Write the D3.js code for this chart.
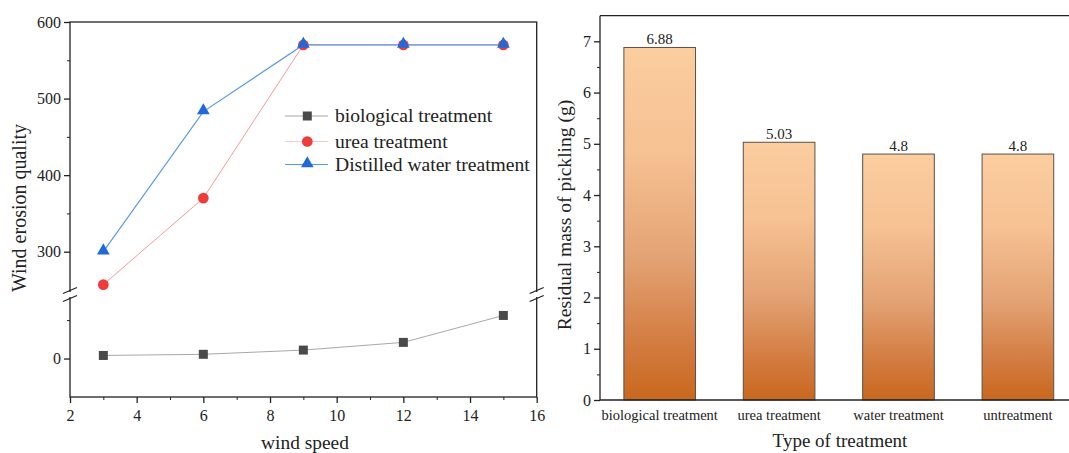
<!DOCTYPE html>
<html><head><meta charset="utf-8">
<script src="https://cdn.jsdelivr.net/npm/d3@7"></script>
<style>
html,body{margin:0;padding:0;background:#fff;}
svg, svg text{font-family:"Liberation Serif","Times New Roman",serif !important;}
</style></head>
<body><svg id="c" width="1069" height="453"></svg>
<script>
// ---------- data ----------
const windSpeed = [3, 6, 9, 12, 15];
const biological = [4, 5.5, 11, 21, 56];
const urea = [257, 370, 570, 570, 570];
const distilled = [300, 483, 570, 570, 570];
const seriesNames = ["biological treatment", "urea treatment", "Distilled water treatment"];
const xTicks = [2, 4, 6, 8, 10, 12, 14, 16];
const yUpperTicks = [300, 400, 500, 600];
const yLowerTicks = [0];

const treatments = ["biological treatment", "urea treatment", "water treatment", "untreatment"];
const residual = [6.88, 5.03, 4.8, 4.8];
const residualLabels = ["6.88", "5.03", "4.8", "4.8"];
const barTicks = [0, 1, 2, 3, 4, 5, 6, 7];

const svg = d3.select("#c");

// ---------- left chart ----------
const L = {left: 70, right: 536.7, top: 22, bottom: 397};
const x = d3.scaleLinear().domain([2, 16]).range([L.left, L.right]);
const yUp = d3.scaleLinear().domain([250, 600]).range([290, L.top]);
const yLo = d3.scaleLinear().domain([-50, 80]).range([L.bottom, 297]);
const yv = v => v >= 200 ? yUp(v) : yLo(v);

const g = svg.append("g");
g.append("rect").attr("x", L.left).attr("y", L.top).attr("width", L.right - L.left).attr("height", L.bottom - L.top)
  .attr("fill", "none").attr("stroke", "#222").attr("stroke-width", 1.3);
[L.left, L.right].forEach(ax => {
  g.append("rect").attr("x", ax - 3).attr("y", 292).attr("width", 6).attr("height", 5).attr("fill", "#fff");
  [290.5, 298.5].forEach(by => g.append("line").attr("x1", ax - 7).attr("x2", ax + 7)
    .attr("y1", by + 3).attr("y2", by - 3).attr("stroke", "#222").attr("stroke-width", 1.3));
});
const xAx = d3.axisBottom(x).tickValues(xTicks).tickSize(6).tickSizeOuter(0).tickFormat(d3.format("d"));
const xg = g.append("g").attr("transform", `translate(0,${L.bottom})`).call(xAx);
xg.select(".domain").remove();
xg.selectAll("text").attr("font-size", 16).attr("fill", "#222").attr("dy", "0.95em");
xg.selectAll("line").attr("stroke", "#222").attr("stroke-width", 1.3);
const xMinor = d3.axisBottom(x).tickValues(d3.range(3, 16, 2)).tickSize(3).tickFormat("");
const xmg = g.append("g").attr("transform", `translate(0,${L.bottom})`).call(xMinor);
xmg.select(".domain").remove(); xmg.selectAll("line").attr("stroke", "#222");
function yAxis(scale, major, minor) {
  const a = g.append("g").attr("transform", `translate(${L.left},0)`)
    .call(d3.axisLeft(scale).tickValues(major).tickSize(6).tickFormat(d3.format("d")));
  a.select(".domain").remove();
  a.selectAll("text").attr("font-size", 16).attr("fill", "#222").attr("x", -9);
  a.selectAll("line").attr("stroke", "#222").attr("stroke-width", 1.3);
  const m = g.append("g").attr("transform", `translate(${L.left},0)`)
    .call(d3.axisLeft(scale).tickValues(minor).tickSize(3).tickFormat(""));
  m.select(".domain").remove(); m.selectAll("line").attr("stroke", "#222");
}
yAxis(yUp, yUpperTicks, [350, 450, 550]);
yAxis(yLo, yLowerTicks, [50]);

const line = d3.line().x((d, i) => x(windSpeed[i])).y(d => yv(d));
g.append("path").datum(biological).attr("d", line).attr("fill", "none").attr("stroke", "#a8a8a8").attr("stroke-width", 1);
g.append("path").datum(urea).attr("d", line).attr("fill", "none").attr("stroke", "#f59a9a").attr("stroke-width", 1);
g.append("path").datum(distilled).attr("d", line).attr("fill", "none").attr("stroke", "#5a9ae8").attr("stroke-width", 1.2);

const sq = d3.symbol().type(d3.symbolSquare).size(81);
const ci = d3.symbol().type(d3.symbolCircle).size(90);
const tr = d3.symbol().type(d3.symbolTriangle).size(70);
g.selectAll(".m1").data(biological).join("path").attr("d", sq)
  .attr("transform", (d, i) => `translate(${x(windSpeed[i])},${yv(d)})`).attr("fill", "#4a4a4a");
g.selectAll(".m2").data(urea).join("path").attr("d", ci)
  .attr("transform", (d, i) => `translate(${x(windSpeed[i])},${yv(d)})`).attr("fill", "#f03b3b");
g.selectAll(".m3").data(distilled).join("path").attr("d", tr)
  .attr("transform", (d, i) => `translate(${x(windSpeed[i])},${yv(d) - 1})`).attr("fill", "#1f6ad8");

const legColors = [["#a8a8a8", "#4a4a4a", sq], ["#f7c8c8", "#f03b3b", ci], ["#5a9ae8", "#1f6ad8", tr]];
const legY = [116, 141.5, 164.5];
seriesNames.forEach((n, i) => {
  g.append("line").attr("x1", 285).attr("x2", 328).attr("y1", legY[i]).attr("y2", legY[i])
    .attr("stroke", legColors[i][0]).attr("stroke-width", 1.2);
  g.append("path").attr("d", legColors[i][2]).attr("transform", `translate(307.3,${legY[i] - (i === 2 ? 1 : 0)})`).attr("fill", legColors[i][1]);
  g.append("text").attr("x", 335).attr("y", legY[i]).attr("dy", "0.33em").attr("font-size", 19.6).attr("fill", "#222").text(n);
});
g.append("text").attr("transform", "translate(26,208) rotate(-90)").attr("text-anchor", "middle")
  .attr("font-size", 20).attr("fill", "#222").text("Wind erosion quality");
g.append("text").attr("x", 305).attr("y", 449).attr("text-anchor", "middle")
  .attr("font-size", 19.4).attr("fill", "#222").text("wind speed");

// ---------- right chart ----------
const R = {left: 600, right: 1077.6, top: 15.7, bottom: 400};
const xb = d3.scaleBand().domain(treatments).range([R.left, R.right]).paddingInner(0.4).paddingOuter(0.2);
const yb = d3.scaleLinear().domain([0, 7.5]).range([R.bottom, R.top]);
const defs = svg.append("defs");
const grad = defs.append("linearGradient").attr("id", "bg").attr("x1", 0).attr("y1", 0).attr("x2", 0).attr("y2", 1);
[[0, "#fbcd9f"], [0.3, "#f6c193"], [0.6, "#e3a273"], [0.85, "#d27a3e"], [1, "#c9681e"]]
  .forEach(s => grad.append("stop").attr("offset", s[0]).attr("stop-color", s[1]));
const h = svg.append("g");
h.selectAll(".bar").data(residual).join("rect")
  .attr("x", (d, i) => xb(treatments[i])).attr("width", xb.bandwidth())
  .attr("y", d => yb(d)).attr("height", d => R.bottom - yb(d))
  .attr("fill", "url(#bg)").attr("stroke", "#5a5048").attr("stroke-width", 1);
h.selectAll(".vl").data(residual).join("text")
  .attr("x", (d, i) => xb(treatments[i]) + xb.bandwidth() / 2).attr("y", d => yb(d) - 3)
  .attr("text-anchor", "middle").attr("font-size", 15).attr("fill", "#222").text((d, i) => residualLabels[i]);
h.append("line").attr("x1", R.left).attr("x2", 1069).attr("y1", R.top).attr("y2", R.top).attr("stroke", "#222").attr("stroke-width", 1.3);
h.append("line").attr("x1", R.left).attr("x2", 1069).attr("y1", R.bottom).attr("y2", R.bottom).attr("stroke", "#222").attr("stroke-width", 1.3);
h.append("line").attr("x1", R.left).attr("x2", R.left).attr("y1", R.top).attr("y2", R.bottom).attr("stroke", "#222").attr("stroke-width", 1.3);
const ya = h.append("g").attr("transform", `translate(${R.left},0)`)
  .call(d3.axisLeft(yb).tickValues(barTicks).tickSize(6).tickFormat(d3.format("d")));
ya.select(".domain").remove();
ya.selectAll("text").attr("font-size", 16).attr("fill", "#222").attr("x", -9);
ya.selectAll("line").attr("stroke", "#222").attr("stroke-width", 1.3);
const ym = h.append("g").attr("transform", `translate(${R.left},0)`)
  .call(d3.axisLeft(yb).tickValues(d3.range(0.5, 7.5, 1)).tickSize(3).tickFormat(""));
ym.select(".domain").remove(); ym.selectAll("line").attr("stroke", "#222");
const xa = h.append("g").attr("transform", `translate(0,${R.bottom})`)
  .call(d3.axisBottom(xb).tickSize(0));
xa.select(".domain").remove();
xa.selectAll("text").attr("font-size", 14.5).attr("fill", "#222").attr("dy", "1.2em");
h.append("text").attr("transform", "translate(571,215) rotate(-90)").attr("text-anchor", "middle")
  .attr("font-size", 19.6).attr("fill", "#222").text("Residual mass of pickling (g)");
h.append("text").attr("x", 840).attr("y", 447).attr("text-anchor", "middle")
  .attr("font-size", 19).attr("fill", "#222").text("Type of treatment");
</script></body></html>
